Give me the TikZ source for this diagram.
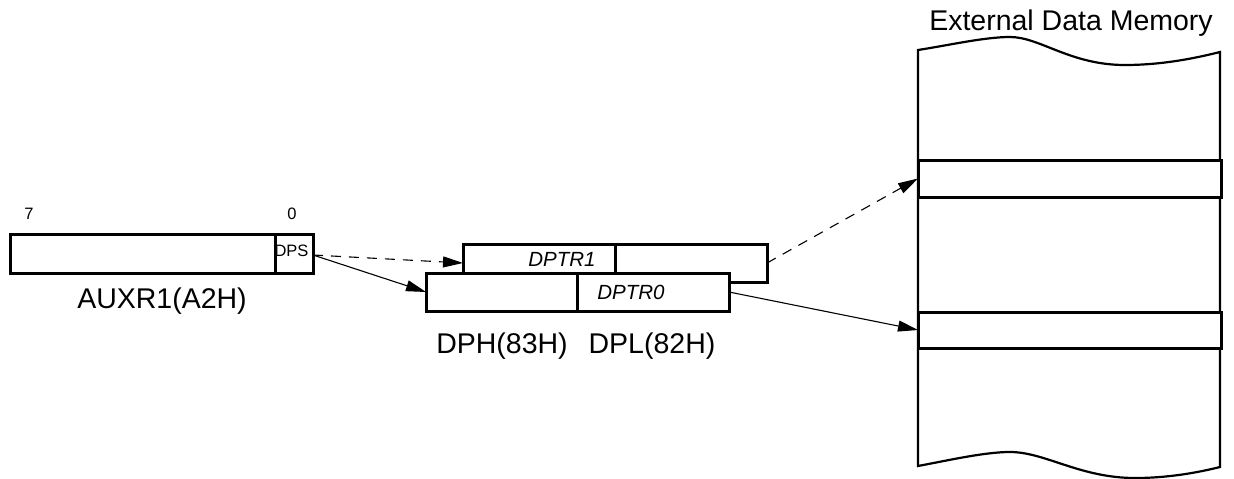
\documentclass[tikz,border=0pt]{standalone}
\usepackage{fontspec}
\setmainfont{Liberation Sans}
\usetikzlibrary{arrows.meta}
\begin{document}
\begin{tikzpicture}[x=1pt,y=-1pt,
  reg/.style={draw,line width=3pt,minimum height=39pt,inner sep=0pt,outer sep=0pt,anchor=north west,fill=white},
  big/.style={font=\fontsize{28.5}{30}\selectfont,inner sep=0pt,anchor=base},
  small/.style={font=\fontsize{16.5}{18}\selectfont,inner sep=0pt},
  lab/.style={font=\fontsize{20.5}{22}\selectfont\itshape,inner sep=0pt},
  conn/.style={line width=1.1pt,-{Triangle[length=20pt,width=11pt]}},
  dashconn/.style={conn,dash pattern=on 10pt off 8pt}]
\useasboundingbox (0,0) rectangle (1234,479);

% external memory outline
\draw[line width=2.2pt] (918,50) .. controls (950,45) and (985,37) .. (1010,37)
  .. controls (1040,37) and (1070,65) .. (1125,65)
  .. controls (1165,65) and (1200,57) .. (1220,52) -- (1220,467)
  .. controls (1200,472) and (1170,478) .. (1135,478)
  .. controls (1080,478) and (1045,452) .. (1010,452)
  .. controls (985,452) and (950,460) .. (918,466) -- cycle;
\node[big] (title) at (1071,30) {External Data Memory};
\node[reg,minimum width=303pt,minimum height=37pt] (c1) at (918,160) {};
\node[reg,minimum width=303pt,minimum height=36pt] (c2) at (918,312) {};

% AUXR1
\node[reg,minimum width=265pt] (auxr) at (10,234) {};
\node[reg,minimum width=38pt] (dps) at (275,234) {};
\node[small] (dpsl) at (291.5,250.5) {DPS};
\node[small] (b7) at (29,214) {7};
\node[small] (b0) at (292,214) {0};
\node[big] (auxrl) at (162,308) {AUXR1(A2H)};

% DPTR1
\node[reg,minimum width=152pt,minimum height=38pt] (d1h) at (463,244) {};
\node[reg,minimum width=152pt,minimum height=38pt] (d1l) at (615,244) {};
\node[lab] (t1) at (562,259) {DPTR1};
% DPTR0
\node[reg,minimum width=151pt,minimum height=38pt] (d0h) at (426,273) {};
\node[reg,minimum width=152pt,minimum height=38pt] (d0l) at (577,273) {};
\node[lab] (t0) at (631,292) {DPTR0};
\node[big] (dph) at (502,353) {DPH(83H)};
\node[big] (dpl) at (652,353) {DPL(82H)};

% connectors
\coordinate (src) at ([yshift=-1.5pt]dps.east);
\draw[dashconn] (src) -- (d1h.west);
\draw[conn] (src) -- (d0h.west);
\draw[dashconn] (d1l.east) -- (c1.west);
\draw[conn] (d0l.east) -- (c2.west);
\end{tikzpicture}
\end{document}
